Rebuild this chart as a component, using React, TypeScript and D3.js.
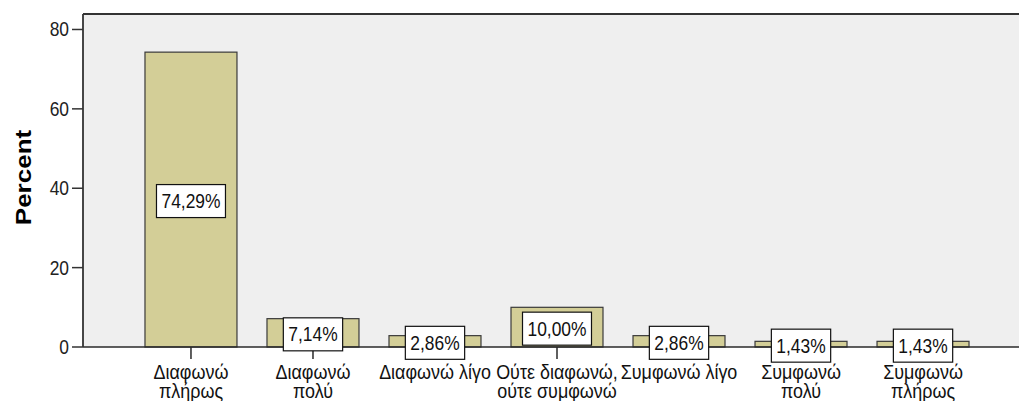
import React, { useEffect, useRef } from "react";
import * as d3 from "d3";

const categories = [
  "Διαφωνώ πλήρως",
  "Διαφωνώ πολύ",
  "Διαφωνώ λίγο",
  "Ούτε διαφωνώ, ούτε συμφωνώ",
  "Συμφωνώ λίγο",
  "Συμφωνώ πολύ",
  "Συμφωνώ πλήρως",
];
const categoryLines = [
  ["Διαφωνώ", "πλήρως"],
  ["Διαφωνώ", "πολύ"],
  ["Διαφωνώ λίγο"],
  ["Ούτε διαφωνώ,", "ούτε συμφωνώ"],
  ["Συμφωνώ λίγο"],
  ["Συμφωνώ", "πολύ"],
  ["Συμφωνώ", "πλήρως"],
];
const percents = [74.29, 7.14, 2.86, 10.0, 2.86, 1.43, 1.43];
const valueLabels = ["74,29%", "7,14%", "2,86%", "10,00%", "2,86%", "1,43%", "1,43%"];
const yTicks = [0, 20, 40, 60, 80];
const yTitle = "Percent";

const W = 1019;
const H = 401;
const FONT = "'Liberation Sans', Arial, sans-serif";
const SQ = 0.87;
const SQC = 0.92;

export default function App() {
  const ref = useRef<SVGSVGElement | null>(null);

  useEffect(() => {
    const svg = d3.select(ref.current);
    svg.selectAll("*").remove();

    const left = 83;
    const right = 1031;
    const top = 14;
    const bottom = 347;

    const x = d3
      .scaleBand<string>()
      .domain(categories)
      .range([left, right])
      .paddingInner(0.246)
      .paddingOuter(0.508);
    const y = d3.scaleLinear().domain([0, 83.9]).range([bottom, top]);

    // plot background
    svg
      .append("rect")
      .attr("x", left)
      .attr("y", top)
      .attr("width", right - left)
      .attr("height", bottom - top)
      .attr("fill", "#EFEFEF");

    // bars
    svg
      .selectAll("rect.bar")
      .data(percents)
      .enter()
      .append("rect")
      .attr("class", "bar")
      .attr("x", (_, i) => x(categories[i])!)
      .attr("y", (d) => y(d))
      .attr("width", x.bandwidth())
      .attr("height", (d) => bottom - y(d))
      .attr("fill", "#D3CE97")
      .attr("stroke", "#3A3A3A")
      .attr("stroke-width", 1.2);

    // x axis line
    svg
      .append("line")
      .attr("x1", left)
      .attr("x2", W + 20)
      .attr("y1", bottom)
      .attr("y2", bottom)
      .attr("stroke", "#2A2A2A")
      .attr("stroke-width", 1.5);

    // x ticks
    categories.forEach((c) => {
      const cx = x(c)! + x.bandwidth() / 2;
      svg
        .append("line")
        .attr("x1", cx)
        .attr("x2", cx)
        .attr("y1", bottom)
        .attr("y2", bottom + 12)
        .attr("stroke", "#2A2A2A")
        .attr("stroke-width", 1.5);
    });

    // frame top & left
    svg
      .append("line")
      .attr("x1", left)
      .attr("x2", W + 20)
      .attr("y1", top)
      .attr("y2", top)
      .attr("stroke", "#333")
      .attr("stroke-width", 1.8);
    svg
      .append("line")
      .attr("x1", left)
      .attr("x2", left)
      .attr("y1", top)
      .attr("y2", bottom)
      .attr("stroke", "#333")
      .attr("stroke-width", 1.8);

    // y ticks
    yTicks.forEach((t) => {
      const ty = y(t);
      svg
        .append("line")
        .attr("x1", left - 11)
        .attr("x2", left)
        .attr("y1", ty)
        .attr("y2", ty)
        .attr("stroke", "#333")
        .attr("stroke-width", 1.5);
      svg
        .append("g")
        .attr("transform", `translate(${left - 14},${ty + 7}) scale(${SQ},1)`)
        .append("text")
        .attr("text-anchor", "end")
        .attr("font-family", FONT)
        .attr("font-size", 20)
        .attr("fill", "#222")
        .text(String(t));
    });

    // y title
    svg
      .append("g")
      .attr("transform", `translate(${31},${(top + bottom) / 2 - 3}) scale(0.82,1) rotate(-90)`)
      .append("text")
      .attr("text-anchor", "middle")
      .attr("font-family", FONT)
      .attr("font-weight", "bold")
      .attr("font-size", 26)
      .attr("fill", "#000")
      .text(yTitle);

    // value labels
    percents.forEach((p, i) => {
      const cx = x(categories[i])! + x.bandwidth() / 2;
      const cy = (y(p) + bottom) / 2 + 1.5;
      const g = svg.append("g");
      const rect = g.append("rect");
      const tg = g.append("g").attr("transform", `translate(${cx},${cy + 7}) scale(${SQ},1)`);
      const txt = tg
        .append("text")
        .attr("text-anchor", "middle")
        .attr("font-family", FONT)
        .attr("font-size", 20)
        .attr("fill", "#111")
        .text(valueLabels[i]);
      const tw = (txt.node() as SVGTextElement).getComputedTextLength() * SQ;
      const bw = tw + 10;
      rect
        .attr("x", cx - bw / 2)
        .attr("y", cy - 16.5)
        .attr("width", bw)
        .attr("height", 33)
        .attr("fill", "#fff")
        .attr("stroke", "#111")
        .attr("stroke-width", 1.2);
    });

    // category labels
    categoryLines.forEach((lines, i) => {
      const cx = x(categories[i])! + x.bandwidth() / 2;
      lines.forEach((ln, j) => {
        svg
          .append("g")
          .attr("transform", `translate(${cx},${379 + j * 19}) scale(${SQC},1)`)
          .append("text")
          .attr("text-anchor", "middle")
          .attr("font-family", FONT)
          .attr("font-size", 19.5)
          .attr("fill", "#111")
          .text(ln);
      });
    });
  }, []);

  return (
    <svg
      ref={ref}
      width={W}
      height={H}
      style={{ position: "absolute", left: 0, top: 0, background: "#fff" }}
    />
  );
}
